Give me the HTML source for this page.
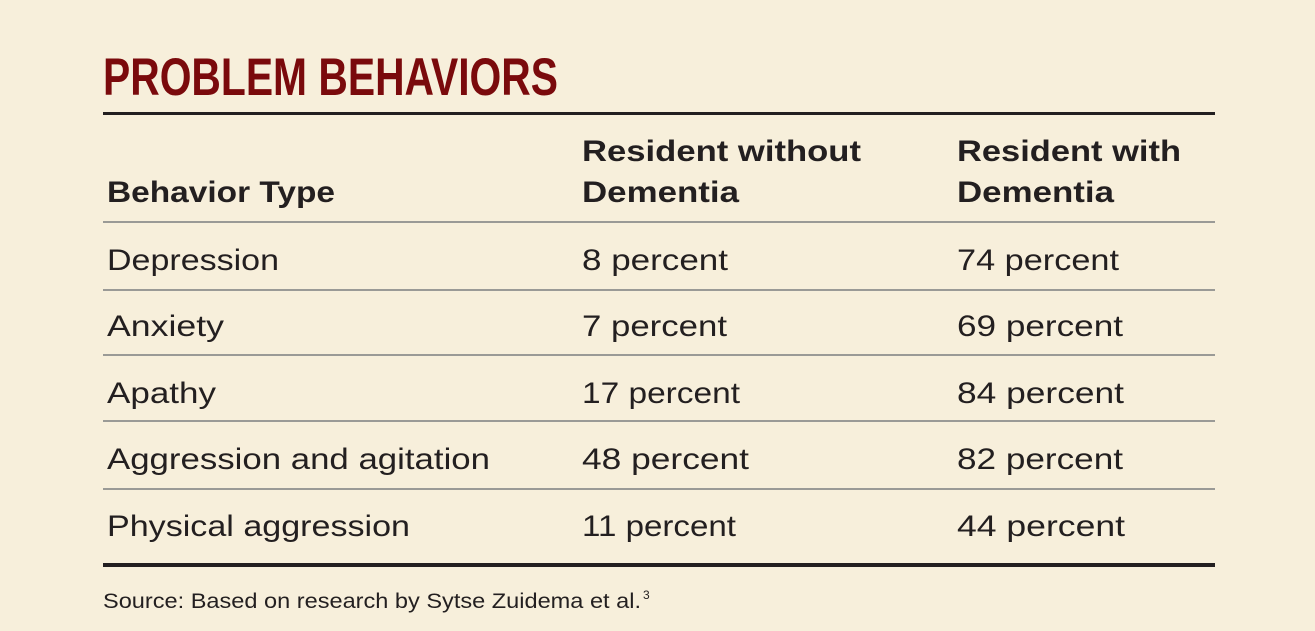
<!DOCTYPE html>
<html><head><meta charset="utf-8"><style>
html,body{margin:0;padding:0;background:#f7efdb;}
svg{display:block}
text{font-family:"Liberation Sans",sans-serif;fill:#231f20}
.b{font-weight:bold}
</style></head><body>
<svg width="1315" height="631" viewBox="0 0 1315 631" xmlns="http://www.w3.org/2000/svg">
<rect width="1315" height="631" fill="#f7efdb"/>
<text x="103" y="95" font-size="53" class="b" style="fill:#7a0a0c" textLength="455" lengthAdjust="spacingAndGlyphs">PROBLEM BEHAVIORS</text>
<rect x="103" y="112" width="1112" height="3" fill="#231f20"/>
<text x="582" y="161" font-size="30" class="b" textLength="279" lengthAdjust="spacingAndGlyphs">Resident without</text>
<text x="957" y="161" font-size="30" class="b" textLength="224" lengthAdjust="spacingAndGlyphs">Resident with</text>
<text x="107" y="202" font-size="30" class="b" textLength="228" lengthAdjust="spacingAndGlyphs">Behavior Type</text>
<text x="582" y="202" font-size="30" class="b" textLength="157" lengthAdjust="spacingAndGlyphs">Dementia</text>
<text x="957" y="202" font-size="30" class="b" textLength="157" lengthAdjust="spacingAndGlyphs">Dementia</text>
<g fill="#9a9a96">
<rect x="103" y="221" width="1112" height="2"/>
<rect x="103" y="289" width="1112" height="2"/>
<rect x="103" y="354" width="1112" height="2"/>
<rect x="103" y="420" width="1112" height="2"/>
<rect x="103" y="488" width="1112" height="2"/>
</g>
<g font-size="30">
<text x="107" y="270" textLength="172" lengthAdjust="spacingAndGlyphs">Depression</text>
<text x="582" y="270" textLength="146" lengthAdjust="spacingAndGlyphs">8 percent</text>
<text x="957" y="270" textLength="162" lengthAdjust="spacingAndGlyphs">74 percent</text>
<text x="107" y="336" textLength="117" lengthAdjust="spacingAndGlyphs">Anxiety</text>
<text x="582" y="336" textLength="145" lengthAdjust="spacingAndGlyphs">7 percent</text>
<text x="957" y="336" textLength="166" lengthAdjust="spacingAndGlyphs">69 percent</text>
<text x="107" y="403" textLength="109" lengthAdjust="spacingAndGlyphs">Apathy</text>
<text x="582" y="403" textLength="158" lengthAdjust="spacingAndGlyphs">17 percent</text>
<text x="957" y="403" textLength="167" lengthAdjust="spacingAndGlyphs">84 percent</text>
<text x="107" y="469" textLength="383" lengthAdjust="spacingAndGlyphs">Aggression and agitation</text>
<text x="582" y="469" textLength="167" lengthAdjust="spacingAndGlyphs">48 percent</text>
<text x="957" y="469" textLength="166" lengthAdjust="spacingAndGlyphs">82 percent</text>
<text x="107" y="536" textLength="303" lengthAdjust="spacingAndGlyphs">Physical aggression</text>
<text x="582" y="536" textLength="154" lengthAdjust="spacingAndGlyphs">11 percent</text>
<text x="957" y="536" textLength="168" lengthAdjust="spacingAndGlyphs">44 percent</text>
</g>
<rect x="103" y="563" width="1112" height="4" fill="#231f20"/>
<text x="103" y="608" font-size="21" textLength="538" lengthAdjust="spacingAndGlyphs">Source: Based on research by Sytse Zuidema et al.</text>
<text x="643" y="599" font-size="12">3</text>
</svg>
</body></html>
